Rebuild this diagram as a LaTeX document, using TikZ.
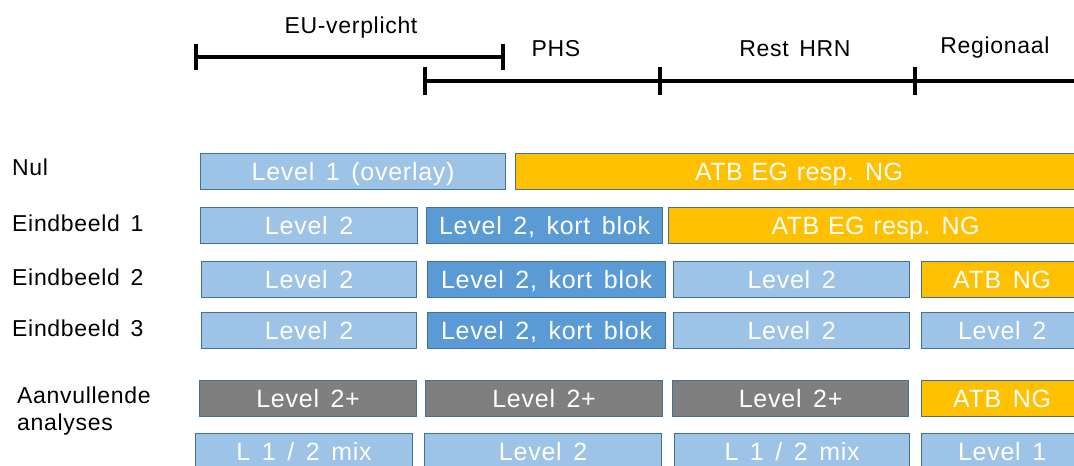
\documentclass[tikz,border=0pt]{standalone}
\usepackage{fontspec}
\setmainfont[LetterSpace=3,WordSpace=1.5]{Liberation Sans}
\newfontfamily\atbfont[LetterSpace=1.5,WordSpace=1.2]{Liberation Sans}
\definecolor{lb}{HTML}{9DC3E6}
\definecolor{mb}{HTML}{5B9BD5}
\definecolor{og}{HTML}{FFC000}
\definecolor{gy}{HTML}{7F7F7F}
\definecolor{bd}{HTML}{41719C}
\tikzset{
  blk/.style={draw=bd, line width=1.2pt, text=white, inner sep=0pt,
    font=\fontsize{25}{25}\selectfont, text height=18pt, text depth=0pt,
    minimum height=36pt, anchor=north west},
  rowlbl/.style={anchor=base west, inner sep=0pt, font=\fontsize{23}{23}\selectfont},
  hdr/.style={anchor=base, inner sep=0pt, font=\fontsize{23}{23}\selectfont},
  bar/.style={line width=4pt},
}
\newcommand\bx[6]{\node[blk, fill=#2, minimum width={(#4-#3)*1pt}] (#1) at (#3,#5) {#6};}
\begin{document}
\begin{tikzpicture}[x=1pt,y=-1pt]
\path[use as bounding box] (0,0) rectangle (1074,466);
\clip (0,0) rectangle (1074,466);
% timelines
\coordinate (eu1) at (196,57); \coordinate (eu2) at (503,57);
\coordinate (t1) at (425,81); \coordinate (t2) at (660,81);
\coordinate (t3) at (915,81); \coordinate (t4) at (1080,81);
\draw[bar] (eu1) -- (eu2);
\draw[bar] ([yshift=-13pt]eu1) -- ([yshift=13pt]eu1);
\draw[bar] ([yshift=-13pt]eu2) -- ([yshift=13pt]eu2);
\draw[bar] (t1) -- (t4);
\foreach \c in {t1,t2,t3} \draw[bar] ([yshift=-14pt]\c) -- ([yshift=14pt]\c);
\node[hdr] (heu) at (351,33) {EU-verplicht};
\node[hdr] (hphs) at (556,56) {PHS};
\node[hdr] (hrest) at (795,56) {Rest HRN};
\node[hdr] (hreg) at (995,53) {Regionaal};
% row labels
\node[rowlbl] (lnul) at (12,175) {Nul};
\node[rowlbl] (le1) at (12,231) {Eindbeeld 1};
\node[rowlbl] (le2) at (12,285) {Eindbeeld 2};
\node[rowlbl] (le3) at (12,336) {Eindbeeld 3};
\node[rowlbl] (la1) at (17,403) {Aanvullende};
\node[rowlbl] (la2) at (17,430) {analyses};
% Nul
\bx{n1}{lb}{200}{505}{153}{Level 1 (overlay)}
\bx{n2}{og}{515}{1082}{153}{\atbfont ATB EG resp. NG}
% Eindbeeld 1
\bx{a1}{lb}{200}{417}{207}{Level 2}
\bx{a2}{mb}{426}{662}{207}{Level 2, kort blok}
\bx{a3}{og}{668}{1082}{207}{\atbfont ATB EG resp. NG}
% Eindbeeld 2
\bx{b1}{lb}{201}{416}{261}{Level 2}
\bx{b2}{mb}{427}{665}{261}{Level 2, kort blok}
\bx{b3}{lb}{673}{909}{261}{Level 2}
\bx{b4}{og}{921}{1082}{261}{ATB NG}
% Eindbeeld 3
\bx{c1}{lb}{201}{416}{312}{Level 2}
\bx{c2}{mb}{427}{665}{312}{Level 2, kort blok}
\bx{c3}{lb}{673}{909}{312}{Level 2}
\bx{c4}{lb}{921}{1082}{312}{Level 2}
% Aanvullende analyses
\bx{d1}{gy}{199}{416}{380}{Level 2+}
\bx{d2}{gy}{425}{662}{380}{Level 2+}
\bx{d3}{gy}{672}{908}{380}{Level 2+}
\bx{d4}{og}{921}{1082}{380}{ATB NG}
\bx{e1}{lb}{195}{412}{433}{L 1 / 2 mix}
\bx{e2}{lb}{424}{661}{433}{Level 2}
\bx{e3}{lb}{674}{909}{433}{L 1 / 2 mix}
\bx{e4}{lb}{921}{1082}{433}{Level 1}
\end{tikzpicture}
\end{document}
